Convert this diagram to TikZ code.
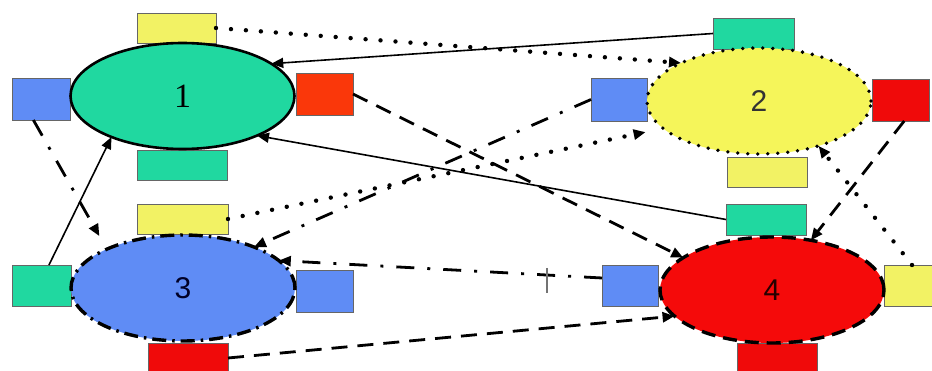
\documentclass[tikz,border=0pt]{standalone}
\usepackage{fontspec}
\setmainfont{Liberation Serif}
\newfontfamily\sansdigits{Liberation Sans}
\usetikzlibrary{shapes.geometric,arrows.meta}
\definecolor{cgreen}{RGB}{32,216,160}
\definecolor{cyellow}{RGB}{242,242,100}
\definecolor{cblue}{RGB}{95,140,245}
\definecolor{corange}{RGB}{250,55,10}
\definecolor{cred}{RGB}{240,10,10}
\definecolor{eyellow}{RGB}{245,245,90}
\definecolor{ered}{RGB}{245,10,10}
\begin{document}
\begin{tikzpicture}[x=1pt,y=-1pt,
  box/.style={draw=black!60,line width=0.8pt,inner sep=0pt,outer sep=0pt},
  blob/.style={ellipse,inner sep=0pt,outer sep=0pt,minimum width=224pt,minimum height=106pt},
  tip/.style={-{Triangle[length=12pt,width=10pt]}},
  solidc/.style={tip,line width=1.6pt},
  dashc/.style={tip,line width=2.8pt,dash pattern=on 16pt off 10pt},
  dotc/.style={tip,line width=4.4pt,line cap=round,dash pattern=on 0pt off 15pt},
  dashdotc/.style={tip,line width=2.8pt,dash pattern=on 18pt off 13pt on 3pt off 13pt},
  numserif/.style={font=\fontsize{34}{34}\selectfont},
  numsans/.style={font=\sansdigits\fontsize{30}{30}\selectfont},
]
\path[use as bounding box] (0,0) rectangle (932,371);

% boxes around 1
\node[box,fill=cyellow,minimum width=79pt,minimum height=30pt] (y1t) at (176.5,28) {};
\node[box,fill=cblue,minimum width=58pt,minimum height=42pt] (b1l) at (41,99) {};
\node[box,fill=corange,minimum width=57pt,minimum height=42pt] (r1r) at (324.5,94) {};
\node[box,fill=cgreen,minimum width=90pt,minimum height=30pt] (g1b) at (182,165) {};
% boxes around 2
\node[box,fill=cgreen,minimum width=81pt,minimum height=31pt] (g2t) at (753.5,33.5) {};
\node[box,fill=cblue,minimum width=56pt,minimum height=43pt] (b2l) at (619,99.5) {};
\node[box,fill=cred,minimum width=57pt,minimum height=42pt] (r2r) at (900.5,100) {};
\node[box,fill=cyellow,minimum width=80pt,minimum height=30pt] (y2b) at (767,172) {};
% boxes around 3
\node[box,fill=cyellow,minimum width=91pt,minimum height=30pt] (y3t) at (182.5,219) {};
\node[box,fill=cgreen,minimum width=59pt,minimum height=41pt] (g3l) at (41.5,285.5) {};
\node[box,fill=cblue,minimum width=57pt,minimum height=42pt] (b3r) at (324.5,291) {};
\node[box,fill=cred,minimum width=80pt,minimum height=30pt] (r3b) at (188,358) {};
% boxes around 4
\node[box,fill=cgreen,minimum width=80pt,minimum height=31pt] (g4t) at (766,219.5) {};
\node[box,fill=cblue,minimum width=56pt,minimum height=41pt] (b4l) at (630,285.5) {};
\node[box,fill=cyellow,minimum width=56pt,minimum height=41pt] (y4r) at (912,285.5) {};
\node[box,fill=cred,minimum width=80pt,minimum height=30pt] (r4b) at (777,358) {};

% ellipses
\node[blob,fill=cgreen,draw=black,line width=2.6pt,numserif] (e1) at (182.5,96) {1};
\node[blob,fill=eyellow,draw=black,line width=3.8pt,line cap=round,dash pattern=on 0pt off 10pt,numsans,text=black!80] (e2) at (759,101) {2};
\node[blob,fill=cblue,draw=black,line width=3.4pt,dash pattern=on 14pt off 6pt on 2.5pt off 6pt,numsans,text=black!85!blue] (e3) at (183,288) {3};
\node[blob,fill=ered,draw=black,line width=3.4pt,dash pattern=on 14pt off 8pt,numsans,text=black!85!red] (e4) at (772,290) {4};

% connectors
\draw[dotc] (y1t.east) -- (e2.154);
\draw[solidc] (g2t.west) -- (e1.20);
\draw[dashc] (r1r.east) -- (e4.160);
\draw[solidc] (g4t.west) -- (e1.-28);
\draw[dashdotc] (b2l.west) -- (e3.30);
\draw[dotc,shorten >=18pt] (y3t.east) -- (e2.196);
\draw[dashdotc,shorten >=15pt] (b1l.-110) -- (e3.153);
\draw[solidc] (g3l.70) -- (e1.-150);
\draw[dashdotc] (b4l.165) -- (e3.16);
\draw[dashc] (r3b.east) -- (e4.195);
\draw[dashc] (r2r.-80) -- (e4.52);
\draw[dotc] (y4r.north) -- (e2.-37);

% small tick mark
\draw[black!55,line width=1.6pt] (547,268) -- (547,293);
\end{tikzpicture}
\end{document}
